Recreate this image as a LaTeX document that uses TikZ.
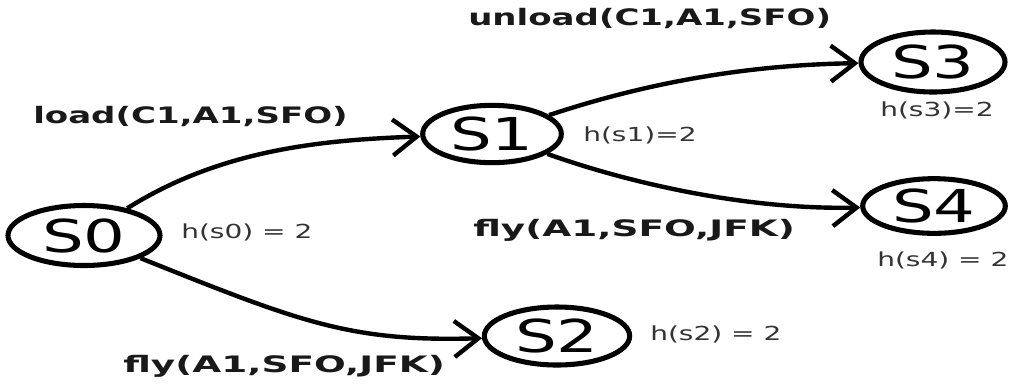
\documentclass[tikz,border=0pt]{standalone}
\usepackage{fontspec}
\usetikzlibrary{shapes.geometric,arrows.meta}
% wide faces for the state names, action labels and heuristic values
\newfontfamily\statefont[FakeStretch=1.45]{DejaVu Sans}
\newfontfamily\actfont[FakeStretch=1.5]{DejaVu Sans Bold}
\newfontfamily\actwidefont[FakeStretch=1.65]{DejaVu Sans Bold}
\newfontfamily\hfont[FakeStretch=1.45]{DejaVu Sans}
\begin{document}
\begin{tikzpicture}[x=0.75pt,y=-0.75pt,
  st/.style={ellipse,draw,line width=3.8pt,inner sep=0pt,
    font=\statefont\fontsize{34}{34}\selectfont},
  act/.style={anchor=base west,inner sep=0pt,text=black!90,
    font=\actfont\fontsize{17}{17}\selectfont},
  actwide/.style={act,font=\actwidefont\fontsize{17}{17}\selectfont},
  heur/.style={anchor=base west,inner sep=0pt,text=black!80,
    font=\hfont\fontsize{14.5}{14.5}\selectfont},
  edge/.style={line width=3.3pt,-{Straight Barb[length=18pt,width=27pt]}}]
  \fill[white] (0,0) rectangle (1012,387);
  \useasboundingbox (0,0) rectangle (1012,387);

  % states
  \node[st,minimum width=114pt,minimum height=45pt] (s0) at (84,235.5) {S0};
  \node[st,minimum width=104pt,minimum height=43pt] (s1) at (492,134) {S1};
  \node[st,minimum width=109pt,minimum height=43.5pt] (s2) at (557,336) {S2};
  \node[st,minimum width=108pt,minimum height=45pt] (s3) at (933,62) {S3};
  \node[st,minimum width=107pt,minimum height=41pt] (s4) at (934,206) {S4};

  % heuristic values
  \node[heur] (h0) at (181,238) {h(s0) = 2};
  \node[heur] (h1) at (583,141) {h(s1)=2};
  \node[heur] (h2) at (650,340) {h(s2) = 2};
  \node[heur] (h3) at (880,116) {h(s3)=2};
  \node[heur] (h4) at (877,266) {h(s4) = 2};

  % actions
  \node[act] (aload) at (33,123) {load(C1,A1,SFO)};
  \node[act] (aunload) at (468,25) {unload(C1,A1,SFO)};
  \node[actwide] (afly1) at (473,236) {fly(A1,SFO,JFK)};
  \node[actwide] (afly2) at (123,372) {fly(A1,SFO,JFK)};

  % transitions
  \draw[edge] (s0) .. controls (220,150) and (320,140) .. (s1);
  \draw[edge] (s0) .. controls (300,322) and (350,342) .. (s2);
  \draw[edge] (s1) .. controls (640,85) and (740,65) .. (s3);
  \draw[edge] (s1) .. controls (620,180) and (740,210) .. (s4);
\end{tikzpicture}
\end{document}
